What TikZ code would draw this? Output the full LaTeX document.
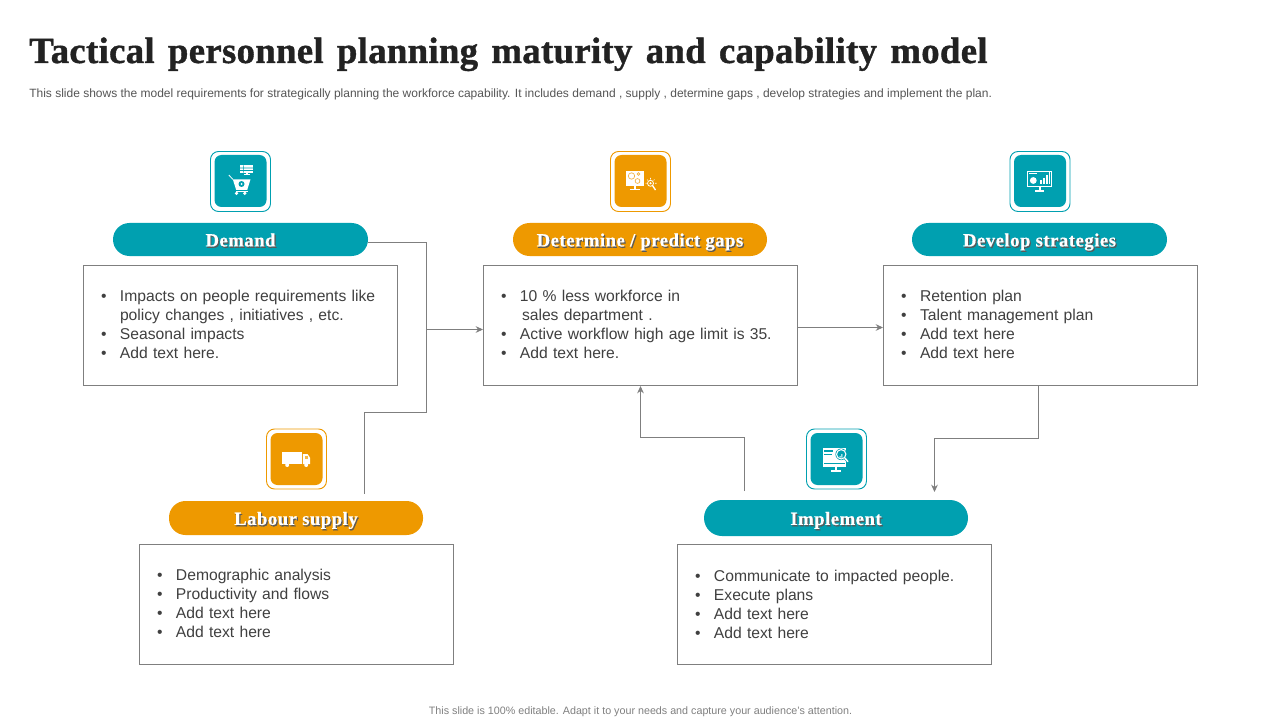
\documentclass[tikz,border=0pt]{standalone}
\usepackage{fontspec}
\setmainfont{Liberation Sans}
\newfontfamily\titlefont[LetterSpace=0.8,WordSpace=1.4,BoldFeatures={FakeBold=1}]{Liberation Serif}
\newfontfamily\pillfont[LetterSpace=2.8,BoldFeatures={FakeBold=0.5}]{Liberation Serif}
\usetikzlibrary{arrows.meta,calc}
\newdimen\px \px=0.75pt
\definecolor{teal1}{HTML}{00A0B0}
\definecolor{orange1}{HTML}{EE9900}
\definecolor{ink}{HTML}{222222}
\definecolor{bodyink}{HTML}{404040}
\definecolor{subink}{HTML}{555555}
\definecolor{footink}{HTML}{808080}
\definecolor{linegray}{HTML}{7F7F7F}
\newcommand{\bl}[1]{\makebox[19\px][l]{•}\mbox{#1}}
\newcommand{\lastbl}[1]{\bl{#1}\rule[-2\px]{0pt}{1pt}}
\newcommand{\shadowed}[1]{\makebox[0pt][l]{\hspace{1.2\px}\raisebox{-1.4\px}{\textcolor{black!65}{#1}}}#1}
\tikzset{
  x=0.75pt,y=-0.75pt,
  pill/.style={rounded corners=16.5\px,fill=#1,text=white,minimum height=33\px,inner sep=0pt,
    text height=11.4pt,text depth=1pt,font=\fontsize{14pt}{15pt}\pillfont\bfseries},
  textbox/.style={draw=linegray,line width=0.75pt,fill=white,minimum width=314\px,minimum height=120\px,
    inner xsep=17.5\px,inner ysep=0pt,text width=279\px,align=left,text=bodyink,
    font=\fontsize{11.75pt}{14.25pt}\selectfont},
  tileouter/.style={draw=#1,line width=0.7pt,rounded corners=8\px,minimum size=60\px,inner sep=0pt,fill=white},
  tileinner/.style={fill=#1,rounded corners=7\px,minimum size=52\px,inner sep=0pt},
  link/.style={draw=linegray,line width=0.7pt},
  arrowlink/.style={link,-{Stealth[length=5.5pt,width=5pt]}},
  icn/.style={fill=white,draw=none},
}
\begin{document}
\begin{tikzpicture}
\useasboundingbox (0,0) rectangle (1280,720);
\fill[white] (0,0) rectangle (1280,720);
% heading
\node[anchor=base west,inner sep=0pt,text=ink,font=\fontsize{27.6pt}{30pt}\titlefont\bfseries] (title) at (29,63) {Tactical personnel planning maturity and capability model};
\node[anchor=base west,inner sep=0pt,text=subink,font=\fontsize{9pt}{10pt}\selectfont] (sub) at (29,98) {This slide shows the model requirements for strategically planning the workforce capability. It includes demand , supply , determine gaps , develop strategies and implement the plan.};
\node[anchor=base,inner sep=0pt,text=footink,font=\fontsize{8.05pt}{10pt}\selectfont] (foot) at (640.5,714) {This slide is 100\% editable.  Adapt it to your needs and capture your audience's attention.};
% pills
\node[pill=teal1,minimum width=255\px] (pdemand) at (240.5,239.5) {\shadowed{Demand}};
\node[pill=orange1,minimum width=254\px] (pgaps) at (640,239.5) {\shadowed{Determine / predict gaps}};
\node[pill=teal1,minimum width=255\px] (pdev) at (1039.5,239.5) {\shadowed{Develop strategies}};
\node[pill=orange1,minimum width=254\px,minimum height=34\px] (plabour) at (296,518) {\shadowed{Labour supply}};
\node[pill=teal1,minimum width=264\px,minimum height=36\px,rounded corners=18\px] (pimpl) at (836,518) {\shadowed{Implement}};
% boxes
\node[textbox] (bdemand) at (240.5,325.5) {\bl{Impacts on people requirements like}\\\hspace{19\px}policy changes , initiatives , etc.\\\bl{Seasonal impacts}\\\lastbl{Add text here.}};
\node[textbox] (bgaps) at (640.5,325.5) {\bl{10 \% less workforce in}\\\hspace{21\px}sales department .\\\bl{Active workflow high age limit is 35.}\\\lastbl{Add text here.}};
\node[textbox] (bdev) at (1040.5,325.5) {\bl{Retention plan}\\\bl{Talent management plan}\\\bl{Add text here}\\\lastbl{Add text here}};
\node[textbox] (blabour) at (296.5,604.5) {\bl{Demographic analysis}\\\bl{Productivity and flows}\\\bl{Add text here}\\\lastbl{Add text here}};
\node[textbox] (bimpl) at (834.5,604.5) {\bl{Communicate to impacted people.}\\\bl{Execute plans}\\\bl{Add text here}\\\bl{Add text here}};
% tiles
\node[tileouter=teal1] (tdemandO) at (240.5,181.5) {};
\node[tileinner=teal1] (tdemand) at (240.5,181) {};
\node[tileouter=orange1] (tgapsO) at (640.5,181.5) {};
\node[tileinner=orange1] (tgaps) at (640.5,181) {};
\node[tileouter=teal1] (tdevO) at (1040,181.5) {};
\node[tileinner=teal1] (tdev) at (1040,181) {};
\node[tileouter=orange1] (tlabourO) at (296.5,459) {};
\node[tileinner=orange1] (tlabour) at (296.5,459) {};
\node[tileouter=teal1] (timplO) at (836.5,459) {};
\node[tileinner=teal1] (timpl) at (836.5,459) {};
% cart icon
\begin{scope}[shift={(tdemand.center)}]
  \fill[icn] (-0.7,-15.7) rectangle (12.7,-8.3);
  \fill[icn] (5,-8.3) rectangle (7,-6.3);
  \fill[icn] (3,-6.5) rectangle (9,-5.5);
  \fill[teal1] (-0.7,-13.3) rectangle (12.7,-12.6) (-0.7,-10.8) rectangle (12.7,-10.1) (2.6,-15.7) rectangle (3.2,-8.3);
  \draw[white,line width=0.6pt] (-11.7,-6) -- (-7.7,-1.7);
  \fill[icn] (-7.7,-1.7) -- (10,-1.7) -- (6.7,9) -- (-4.3,9) -- cycle;
  \fill[teal1] (1,3) circle (3);
  \fill[icn] (1,3) circle (1);
  \fill[icn] (-4,12.3) circle (1.8) (4.3,12.3) circle (1.8);
  \fill[icn] (-4.5,9.8) rectangle (7,10.5);
\end{scope}
% monitor and magnifier icon
\begin{scope}[shift={(tgaps.center)}]
  \fill[icn] (-15,-10.3) rectangle (3.3,5);
  \fill[icn] (-7,5) rectangle (-5,8.5);
  \fill[icn] (-11,8.2) rectangle (-1,9.2);
  \draw[orange1!75,line width=0.5pt] (-9,-5) circle (3.2) (-3,0) circle (2.4);
  \draw[orange1!75,line width=0.5pt] (-2,-7) circle (1.3);
  \draw[white,line width=0.6pt] (10,2.3) circle (3);
  \fill[icn] (10,2.3) circle (1.2);
  \draw[white,line width=1pt] (12,4.5) -- (15,9);
  \draw[white,line width=0.45pt] (5,2.3) -- (6,2.3) (6.5,-1.5) -- (7.3,-0.6) (10,-3) -- (10,-1.5) (14,-1.5) -- (13,-0.6) (16,2.3) -- (14.5,2.3);
\end{scope}
% dashboard icon
\begin{scope}[shift={(tdev.center)}]
  \fill[icn] (-13.3,-10.3) rectangle (11.7,5.7);
  \fill[teal1] (-12.3,-9.3) rectangle (10.7,4.7);
  \fill[icn] (-11.3,-8.3) rectangle (-3,-6.8);
  \fill[icn] (-6.7,-0.5) circle (3.4);
  \fill[icn] (0,-1) rectangle (2,3.5);
  \fill[icn] (3,-3) rectangle (5,3.5);
  \fill[icn] (6,-6) rectangle (8,3.5);
  \fill[icn] (8.6,-9) rectangle (10.2,3.5);
  \fill[icn] (-1.5,5.7) rectangle (0.5,9.5);
  \fill[icn] (-5,9.5) rectangle (4,10.7);
\end{scope}
% truck icon
\begin{scope}[shift={(tlabour.center)}]
  \fill[icn] (-14.3,-7.3) rectangle (5.3,5);
  \fill[icn] (6.3,-5) -- (11,-5) -- (13.7,-1) -- (13.7,5) -- (6.3,5) -- cycle;
  \fill[orange1!70] (8.5,-3.2) rectangle (11,0);
  \fill[icn] (-9.3,6) circle (2) (9.7,6) circle (2);
\end{scope}
% monitor and search icon
\begin{scope}[shift={(timpl.center)}]
  \fill[icn] (-13.7,-10.7) rectangle (9.7,7.7);
  \fill[teal1] (-12.3,-9.3) rectangle (-3.5,-7);
  \fill[teal1] (-12.3,-5) rectangle (-5,-4.2);
  \fill[teal1] (-12.3,4.2) rectangle (8,4.9);
  \fill[icn] (-2,7.7) rectangle (0,11.4);
  \fill[icn] (-6,11.2) rectangle (4,12.7);
  \fill[teal1] (4.7,-4.7) circle (5.8);
  \draw[white,line width=0.8pt] (4.7,-4.7) circle (4.7);
  \fill[icn] (3,-3) rectangle (4,-1.5) (4.8,-5) rectangle (5.8,-1.5);
  \draw[teal1,line width=2pt] (8.5,-0.9) -- (11.7,2.9);
  \draw[white,line width=1.1pt] (8.3,-1.1) -- (11.5,2.7);
\end{scope}
% connectors
\coordinate (jr) at (426,329.5);
\coordinate (labtop) at (364.5,494);
\coordinate (devdrop) at (934.5,492);
\coordinate (implup) at (744.5,491);
\coordinate (devout) at (1038.5,386);
\coordinate (gapsin) at (640.5,386);
\draw[link] (pdemand.east |- 0,242.5) -- (426.5,242.5) -- (426.5,412.5) -- (364.5,412.5) -- (labtop);
\draw[arrowlink] (jr) -- (jr -| bgaps.west);
\draw[arrowlink] (bgaps.east |- 0,327.5) -- (bdev.west |- 0,327.5);
\draw[arrowlink] (devout) -- (1038.5,438.5) -- (934.5,438.5) -- (devdrop);
\draw[arrowlink] (implup) -- (744.5,437.5) -- (640.5,437.5) -- (gapsin);
\end{tikzpicture}
\end{document}
